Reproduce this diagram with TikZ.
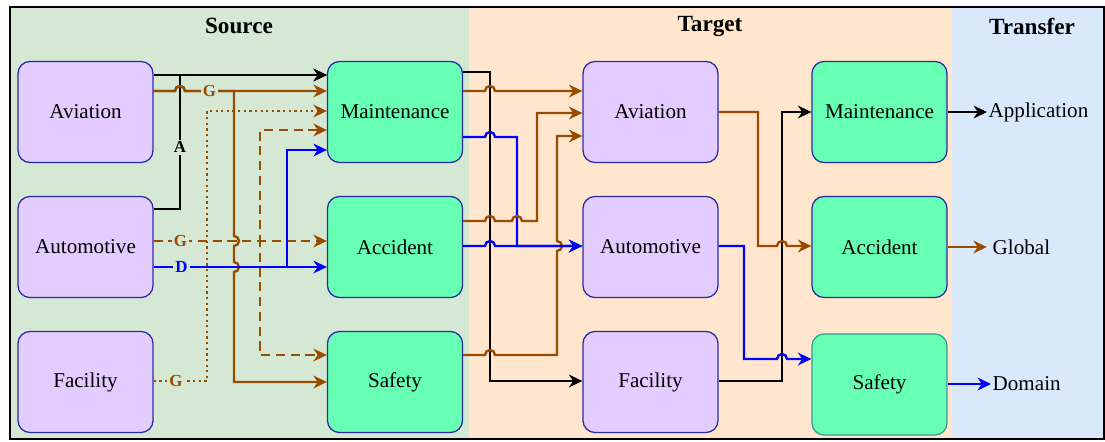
\documentclass[tikz,border=0pt]{standalone}
\usepackage{fontspec}
\setmainfont{Liberation Serif}
\usepackage{xcolor}
\usepackage{tikz}
\usetikzlibrary{arrows.meta}
\usetikzlibrary{calc}
\definecolor{srcbg}{HTML}{D5E8D4}
\definecolor{tgtbg}{HTML}{FFE6CC}
\definecolor{trfbg}{HTML}{DAE8FC}
\definecolor{domfill}{HTML}{E3CCFF}
\definecolor{catfill}{HTML}{66FFB3}
\definecolor{boxline}{HTML}{2B2BA6}
\definecolor{tealline}{HTML}{3D9999}
\definecolor{brn}{HTML}{994C00}
\definecolor{blu}{HTML}{0000FF}
\tikzset{>={Stealth[length=9.5pt,width=9pt,inset=3pt]}}
\tikzset{
    dombox/.style = {draw=boxline, line width=0.9pt, rounded corners=0.3cm,
                     minimum width=3.375cm, minimum height=2.525cm, inner sep=0pt,
                     font=\fontsize{15}{18}\selectfont},
    domnode/.style = {dombox, fill=domfill},
    catnode/.style = {dombox, fill=catfill},
    title/.style = {font=\bfseries\fontsize{16.5}{19}\selectfont},
    outtxt/.style = {anchor=west, inner xsep=1pt, font=\fontsize{15}{18}\selectfont},
    link/.style = {line width=1.7pt, ->},
    dashlink/.style = {link, dash pattern=on 6.5pt off 4pt},
    dotlink/.style = {link, dash pattern=on 1.6pt off 2.4pt},
    lbl/.style = {font=\bfseries\fontsize{12}{13}\selectfont, inner sep=1.6pt, fill=srcbg}
}
% line hops over crossing lines
\newcommand{\hop}{arc[start angle=180,end angle=0,radius=0.125cm]}
\newcommand{\hopdn}{arc[start angle=90,end angle=-90,radius=0.125cm]}
\newcommand{\hopup}{arc[start angle=-90,end angle=90,radius=0.125cm]}

\begin{document}
\begin{tikzpicture}[x=0.025cm, y=-0.025cm]
    \useasboundingbox (0,0) rectangle (1105,441);
    % panels
    \fill[srcbg] (10,7) rectangle (469,439);
    \fill[tgtbg] (469,7) rectangle (952,439);
    \fill[trfbg] (952,7) rectangle (1104,439);
    \draw[line width=1.5pt] (10,7) rectangle (1104,439);
    \node[title] (srct) at (239,26) {Source};
    \node[title] (tgtt) at (710,26) {Target};
    \node[title] (trft) at (1032,26) {Transfer};

    % source
    \node[domnode] (sav) at (85.5,112) {Aviation};
    \node[domnode] (sau) at (85.5,247) {Automotive};
    \node[domnode] (sfa) at (85.5,382) {Facility};
    \node[catnode] (smt) at (395,112) {Maintenance};
    \node[catnode] (sac) at (395,247) {Accident};
    \node[catnode] (ssf) at (395,382) {Safety};
    % target
    \node[domnode] (tav) at (650.5,112) {Aviation};
    \node[domnode] (tau) at (650.5,247) {Automotive};
    \node[domnode] (tfa) at (650.5,382) {Facility};
    \node[catnode] (tmt) at (879.5,112) {Maintenance};
    \node[catnode] (tac) at (879.5,247) {Accident};
    \node[catnode, draw=tealline] (tsf) at (879.5,384.5) {Safety};
    % transfer
    \node[outtxt] (app) at (987,112) {Application};
    \node[outtxt] (glb) at (991,247) {Global};
    \node[outtxt] (dom) at (991,384) {Domain};

    % source to source
    \draw[link] (sav.east |- 0,75) -- (smt.west |- 0,75);
    \draw[link] (sau.east |- 0,209) -- (180,209) -- node[lbl, pos=0.46] {A} (180,75) -- (smt.west |- 0,75);
    \draw[link, brn] (sav.east |- 0,91) -- (175,91) \hop -- (234,91) -- (234,236) \hopdn -- (234,262) \hopdn -- (234,382) -- (ssf.west |- 0,382);
    \draw[link, brn] (sav.east |- 0,91) -- (175,91) \hop -- node[lbl, text=brn] {G} (234,91) -- (smt.west |- 0,91);
    \draw[dotlink, brn] (sfa.east |- 0,381) -- node[lbl, pos=0.42, text=brn] {G} (207,381) -- (207,111) -- (smt.west |- 0,111);
    \draw[dashlink, brn] (sau.east |- 0,241) -- (260,241) -- (260,130) -- (smt.west |- 0,130);
    \draw[dashlink, brn] (sau.east |- 0,241) -- (260,241) -- (260,355) -- (ssf.west |- 0,355);
    \draw[dashlink, brn] (sau.east |- 0,241) -- node[lbl, pos=0.155, text=brn] {G} (sac.west |- 0,241);
    \draw[link, blu] (sau.east |- 0,267) -- (287,267) -- (287,150) -- (smt.west |- 0,150);
    \draw[link, blu] (sau.east |- 0,267) -- node[lbl, pos=0.16, text=blu] {D} (sac.west |- 0,267);

    % source to target
    \draw[link] (smt.east |- 0,72) -- (490,72) -- (490,381) -- (tfa.west |- 0,381);
    \draw[link, brn] (smt.east |- 0,91) -- (485,91) \hop -- (tav.west |- 0,91);
    \draw[link, blu] (smt.east |- 0,137) -- (485,137) \hop -- (517,137) -- (517,246) -- (tau.west |- 0,246);
    \draw[link, brn] (sac.east |- 0,221) -- (485,221) \hop -- (512,221) \hop -- (537,221) -- (537,113) -- (tav.west |- 0,113);
    \draw[link, brn] (ssf.east |- 0,355) -- (485,355) \hop -- (557,355) -- (557,251) \hopup -- (557,136) -- (tav.west |- 0,136);
    \draw[link, blu] (sac.east |- 0,246) -- (485,246) \hop -- (tau.west |- 0,246);

    % target to target
    \draw[link] (tfa.east |- 0,381) -- (782,381) -- (782,112) -- (tmt.west |- 0,112);
    \draw[link, brn] (tav.east |- 0,112) -- (758,112) -- (758,246) -- (777,246) \hop -- (tac.west |- 0,246);
    \draw[link, blu] (tau.east |- 0,246) -- (744,246) -- (744,359) -- (777,359) \hop -- (tsf.west |- 0,359);

    % transfer
    \draw[link] (tmt.east |- 0,112) -- (app.west);
    \draw[link, brn] (tac.east |- 0,247) -- ([xshift=-3pt]glb.west);
    \draw[link, blu] (tsf.east |- 0,384) -- (dom.west);
\end{tikzpicture}
\end{document}
